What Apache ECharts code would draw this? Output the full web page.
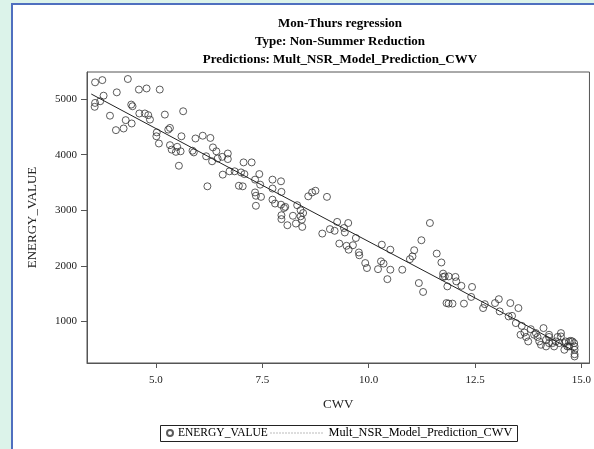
<!DOCTYPE html>
<html>
<head>
<meta charset="utf-8">
<script src="https://cdn.jsdelivr.net/npm/echarts@6/dist/echarts.min.js"></script>
<style>
html,body{margin:0;padding:0;width:594px;height:449px;overflow:hidden;background:#dcf3ea;}
#frame{position:absolute;left:11px;top:3px;width:583px;height:446px;background:#fff;border-left:2px solid #4f6fbf;border-top:2px solid #4f6fbf;box-sizing:border-box;}
#chart{position:absolute;left:0;top:0;width:594px;height:449px;}
</style>
</head>
<body>
<div id="frame"></div>
<div id="chart"></div>
<script>
const titleLines = ['Mon-Thurs regression', 'Type: Non-Summer Reduction', 'Predictions: Mult_NSR_Model_Prediction_CWV'];
const xName = 'CWV';
const yName = 'ENERGY_VALUE';
const scatterName = 'ENERGY_VALUE';
const lineName = 'Mult_NSR_Model_Prediction_CWV';
const xTicks = [5.0, 7.5, 10.0, 12.5, 15.0];
const yTicks = [1000, 2000, 3000, 4000, 5000];

const cwv = [3.57,3.74,4.34,4.08,4.60,4.78,5.09,3.77,3.57,3.56,3.69,4.42,4.45,3.92,4.29,4.43,4.61,4.74,4.82,4.86,
5.21,5.64,4.06,4.24,5.02,5.01,5.07,5.29,5.33,5.33,5.37,5.50,5.58,5.47,5.60,5.54,5.86,5.89,5.93,6.10,
6.28,6.34,6.42,6.32,6.45,6.56,6.69,6.69,6.18,6.21,6.57,6.73,6.85,7.00,7.08,7.06,7.25,7.43,6.95,7.04,
7.33,7.45,7.33,7.35,7.47,7.35,7.74,7.94,7.74,7.95,7.74,7.80,7.94,8.01,8.04,7.95,7.95,8.09,8.22,8.32,
8.40,8.46,8.40,8.43,8.29,8.44,8.58,8.67,8.75,9.02,8.91,9.09,9.20,9.26,9.42,9.52,9.44,9.70,9.31,9.48,
9.53,9.63,9.77,9.78,9.92,9.96,10.22,10.29,10.35,10.51,10.31,10.51,10.44,10.79,10.97,11.03,11.07,11.24,11.44,11.60,
11.71,11.18,11.28,11.75,11.79,11.75,11.85,11.88,12.04,12.06,12.18,11.83,11.88,11.97,12.24,12.43,12.41,12.69,12.73,12.97,
13.06,13.08,13.33,13.52,13.29,13.37,13.46,13.81,13.66,13.70,13.75,13.89,13.97,14.11,14.01,14.05,14.17,14.24,14.32,14.17,
14.36,14.52,14.48,14.60,14.71,14.75,14.83,14.84,14.84,14.84,14.84,14.71,14.60,14.40,14.24,13.93,14.24,14.44,14.52,14.63,
14.67,14.79,13.60,13.57];
const energy = [5300,5340,5360,5120,5170,5190,5170,5060,4930,4860,4960,4900,4870,4700,4620,4560,4740,4740,4710,4630,
4720,4780,4440,4470,4400,4330,4200,4450,4480,4170,4090,4140,4060,4050,4330,3800,4070,4040,4290,4340,
4300,4130,4060,3880,3930,3960,4020,3920,3970,3430,3640,3700,3700,3680,3650,3860,3860,3650,3440,3430,
3550,3460,3320,3260,3240,3080,3550,3520,3390,3330,3190,3120,3100,3040,3060,2910,2840,2730,2900,3090,
3000,2950,2890,2830,2760,2700,3250,3320,3350,3240,2580,2660,2630,2790,2680,2770,2600,2500,2400,2360,
2290,2370,2240,2190,2050,1960,1940,2080,2040,1930,2380,2290,1760,1930,2120,2170,2280,2460,2770,2220,
2060,1690,1530,1860,1810,1800,1630,1810,1800,1720,1640,1330,1320,1320,1320,1620,1440,1240,1310,1330,
1400,1180,1330,1240,1090,1100,970,860,800,720,640,760,720,880,640,580,670,720,610,550,
550,730,610,490,640,650,610,550,490,410,370,550,610,640,610,790,760,720,790,640,
550,640,920,760];

const predCwv = [3.48, 7.20, 11.82, 14.85];
const predEnergy = [5090, 3570, 1700, 460];

const scatterData = cwv.map((x, i) => [x, energy[i]]);
const lineData = predCwv.map((x, i) => [x, predEnergy[i]]);

const serif = '"Liberation Serif", "Times New Roman", serif';
const chart = echarts.init(document.getElementById('chart'), null, {renderer: 'canvas'});

const option = {
  animation: false,
  backgroundColor: 'transparent',
  graphic: [
    {type: 'text', x: 340, y: 24, style: {text: titleLines[0], align: 'center', verticalAlign: 'middle', font: 'bold 13px ' + serif, fill: '#000'}},
    {type: 'text', x: 340, y: 42, style: {text: titleLines[1], align: 'center', verticalAlign: 'middle', font: 'bold 13px ' + serif, fill: '#000'}},
    {type: 'text', x: 340, y: 59.5, style: {text: titleLines[2], align: 'center', verticalAlign: 'middle', font: 'bold 13px ' + serif, fill: '#000'}},
    {type: 'rect', shape: {x: 160.5, y: 425.5, width: 357, height: 16}, style: {fill: 'none', stroke: '#222', lineWidth: 1}}
  ],
  grid: {left: 87, top: 72, right: 2, bottom: 86, show: true, borderColor: '#555', borderWidth: 1, backgroundColor: '#fff'},
  xAxis: {
    type: 'value', min: 3.38, max: 15.19,
    name: xName, nameLocation: 'middle', nameGap: 35,
    nameTextStyle: {fontFamily: serif, fontSize: 13, color: '#222'},
    axisLine: {show: true, onZero: false, lineStyle: {color: '#555'}},
    axisTick: {show: true, length: 5, customValues: xTicks, lineStyle: {color: '#555'}},
    axisLabel: {customValues: xTicks, formatter: v => v.toFixed(1), fontFamily: serif, fontSize: 11, color: '#222', margin: 12},
    splitLine: {show: false}
  },
  yAxis: {
    type: 'value', min: 252, max: 5486,
    name: yName, nameLocation: 'middle', nameGap: 48, nameRotate: 90,
    nameTextStyle: {fontFamily: serif, fontSize: 13, color: '#222'},
    axisLine: {show: true, onZero: false, lineStyle: {color: '#555'}},
    axisTick: {show: true, length: 6, customValues: yTicks, lineStyle: {color: '#555'}},
    axisLabel: {customValues: yTicks, formatter: v => String(v), fontFamily: serif, fontSize: 11, color: '#222', margin: 10},
    splitLine: {show: false}
  },
  legend: [
    {
      data: [scatterName], left: 166, top: 427, itemWidth: 6, itemHeight: 6, padding: 0,
      textStyle: {fontFamily: serif, fontSize: 11.5, color: '#000'}
    },
    {
      data: [{name: lineName, itemStyle: {opacity: 0}}], left: 270, top: 427, itemWidth: 53, itemHeight: 8, padding: 0, itemGap: 0,
      lineStyle: {type: [1, 2], color: '#777', width: 1},
      textStyle: {fontFamily: serif, fontSize: 12.3, color: '#000'}
    }
  ],
  series: [
    {
      name: scatterName, type: 'scatter', data: scatterData,
      symbol: 'circle', symbolSize: 7,
      itemStyle: {color: 'rgba(0,0,0,0)', borderColor: '#333', borderWidth: 1}
    },
    {
      name: lineName, type: 'line', data: lineData, symbol: 'none',
      itemStyle: {color: '#222'},
      lineStyle: {color: '#222', width: 1}
    }
  ]
};
chart.setOption(option);
</script>
</body>
</html>
